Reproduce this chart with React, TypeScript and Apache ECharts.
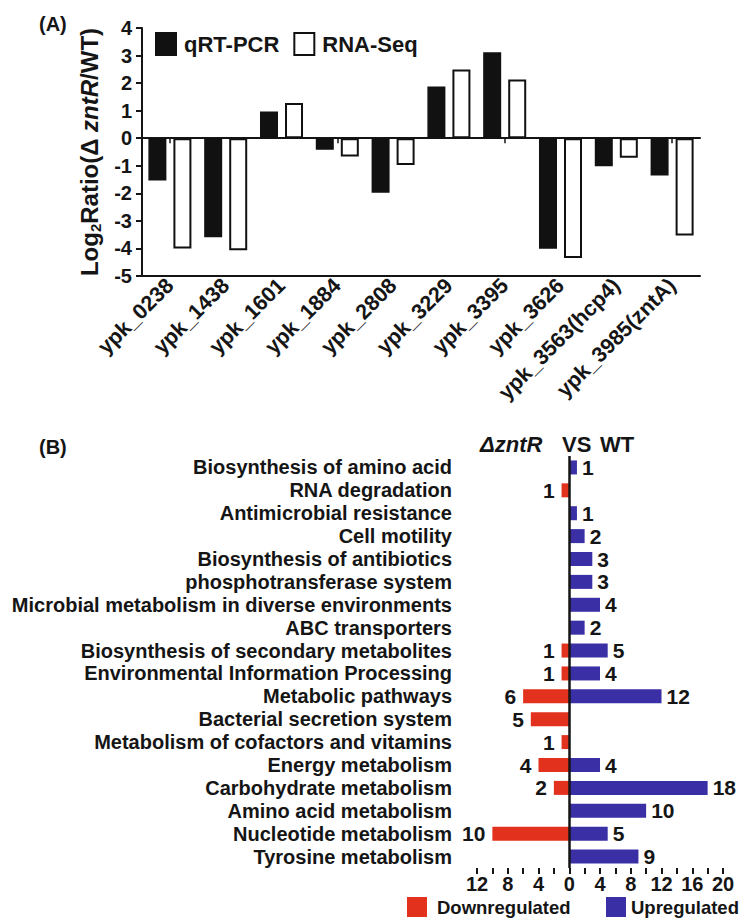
import React, { useEffect, useRef } from "react";
import * as echarts from "echarts";

const FONT = "'Liberation Sans', Arial, Helvetica, sans-serif";
const INK = "#151515";

// Panel A data
const genes = [
  "ypk_0238",
  "ypk_1438",
  "ypk_1601",
  "ypk_1884",
  "ypk_2808",
  "ypk_3229",
  "ypk_3395",
  "ypk_3626",
  "ypk_3563(hcp4)",
  "ypk_3985(zntA)",
];
const qrtPcr = [-1.53, -3.59, 0.97, -0.42, -1.98, 1.88, 3.12, -4.01, -1.02, -1.35];
const rnaSeq = [-4.0, -4.07, 1.28, -0.66, -0.97, 2.49, 2.13, -4.35, -0.71, -3.53];
const yTicksA = { min: -5, max: 4, interval: 1 };

// Panel B data
const pathways = [
  "Biosynthesis of amino acid",
  "RNA degradation",
  "Antimicrobial resistance",
  "Cell motility",
  "Biosynthesis of antibiotics",
  "phosphotransferase system",
  "Microbial metabolism in diverse environments",
  "ABC transporters",
  "Biosynthesis of secondary metabolites",
  "Environmental Information Processing",
  "Metabolic pathways",
  "Bacterial secretion system",
  "Metabolism of cofactors and vitamins",
  "Energy metabolism",
  "Carbohydrate metabolism",
  "Amino acid metabolism",
  "Nucleotide metabolism",
  "Tyrosine metabolism",
];
const downregulated = [0, 1, 0, 0, 0, 0, 0, 0, 1, 1, 6, 5, 1, 4, 2, 0, 10, 0];
const upregulated = [1, 0, 1, 2, 3, 3, 4, 2, 5, 4, 12, 0, 0, 4, 18, 10, 5, 9];
const xTicksB = { min: -12, max: 20, interval: 2, labelEvery: 4 };

const RED = "#e2311d";
const BLUE = "#3a2fa5";

export default function App() {
  const ref = useRef<HTMLDivElement>(null);

  useEffect(() => {
    if (!ref.current) return;
    const chart = echarts.init(ref.current, undefined, { renderer: "svg" });

    const option: any = {
      animation: false,
      backgroundColor: "#ffffff",
      textStyle: { fontFamily: FONT },
      legend: [
        {
          data: ["qRT-PCR", "RNA-Seq"],
          left: 155,
          top: 32,
          padding: 0,
          itemWidth: 20,
          itemHeight: 22,
          itemGap: 14,
          icon: "rect",
          selectedMode: false,
          textStyle: {
            fontFamily: FONT,
            fontSize: 22,
            fontWeight: "bold",
            color: INK,
            padding: [0, 0, 0, 3],
          },
        },
        {
          data: ["Downregulated"],
          left: 407,
          top: 897,
          padding: 0,
          itemWidth: 20,
          itemHeight: 20,
          icon: "rect",
          selectedMode: false,
          textStyle: {
            fontFamily: FONT,
            fontSize: 18.5,
            fontWeight: "bold",
            color: INK,
            padding: [0, 0, 0, 5],
          },
        },
        {
          data: ["Upregulated"],
          left: 606,
          top: 897,
          padding: 0,
          itemWidth: 20,
          itemHeight: 20,
          icon: "rect",
          selectedMode: false,
          textStyle: {
            fontFamily: FONT,
            fontSize: 18.5,
            fontWeight: "bold",
            color: INK,
          },
        },
      ],
      grid: [
        { left: 142, top: 28, width: 558, height: 248 },
        { left: 477, top: 456, width: 246, height: 412 },
      ],
      xAxis: [
        {
          type: "category",
          gridIndex: 0,
          data: genes,
          position: "bottom",
          axisLine: { onZero: false, lineStyle: { color: INK, width: 2 } },
          axisTick: { show: false },
          axisLabel: {
            interval: 0,
            rotate: 45,
            margin: 6,
            fontFamily: FONT,
            fontSize: 21.5,
            fontWeight: "bold",
            color: INK,
          },
        },
        {
          type: "category",
          gridIndex: 0,
          data: genes,
          position: "bottom",
          axisLine: { onZero: true, lineStyle: { color: INK, width: 2 } },
          axisTick: {
            show: true,
            alignWithLabel: true,
            length: 5,
            lineStyle: { color: INK, width: 1.5 },
          },
          axisLabel: { show: false },
        },
        {
          type: "value",
          gridIndex: 1,
          min: xTicksB.min,
          max: xTicksB.max,
          interval: xTicksB.interval,
          axisLine: { onZero: false, lineStyle: { color: INK, width: 2 } },
          axisTick: { show: true, length: 6, lineStyle: { color: INK, width: 2 } },
          splitLine: { show: false },
          axisLabel: {
            margin: 6,
            fontFamily: FONT,
            fontSize: 20,
            fontWeight: "bold",
            color: INK,
            formatter: (v: number) =>
              v % xTicksB.labelEvery === 0 ? String(Math.abs(v)) : "",
          },
        },
      ],
      yAxis: [
        {
          type: "value",
          gridIndex: 0,
          min: yTicksA.min,
          max: yTicksA.max,
          interval: yTicksA.interval,
          axisLine: { show: true, onZero: false, lineStyle: { color: INK, width: 2 } },
          axisTick: { show: true, length: 6, lineStyle: { color: INK, width: 2 } },
          splitLine: { show: false },
          axisLabel: {
            margin: 10,
            fontFamily: FONT,
            fontSize: 20,
            fontWeight: "bold",
            color: INK,
          },
          name: "{a|Log}{s|2}{a|Ratio(Δ }{i|zntR}{a|/WT)}",
          nameLocation: "middle",
          nameGap: 36,
          nameTextStyle: {
            rich: {
              a: {
                fontFamily: FONT,
                fontSize: 24,
                fontWeight: "bold",
                color: INK,
                lineHeight: 28,
              },
              i: {
                fontFamily: FONT,
                fontSize: 24,
                fontWeight: "bold",
                fontStyle: "italic",
                color: INK,
                lineHeight: 28,
              },
              s: {
                fontFamily: FONT,
                fontSize: 15,
                fontWeight: "bold",
                color: INK,
                lineHeight: 15,
                verticalAlign: "bottom",
              },
            },
          },
        },
        {
          type: "category",
          gridIndex: 1,
          data: pathways,
          inverse: true,
          axisLine: { show: false, onZero: false },
          axisTick: { show: false },
          axisLabel: {
            interval: 0,
            margin: 25,
            fontFamily: FONT,
            fontSize: 20,
            fontWeight: "bold",
            color: INK,
          },
        },
      ],
      series: [
        {
          name: "qRT-PCR",
          type: "bar",
          xAxisIndex: 0,
          yAxisIndex: 0,
          data: qrtPcr,
          barWidth: 18,
          barGap: "39%",
          itemStyle: { color: "#111111", borderColor: "#111111", borderWidth: 1.5 },
        },
        {
          name: "RNA-Seq",
          type: "bar",
          xAxisIndex: 0,
          yAxisIndex: 0,
          data: rnaSeq,
          barWidth: 18,
          barGap: "39%",
          itemStyle: { color: "#ffffff", borderColor: "#111111", borderWidth: 2 },
        },
        {
          name: "Downregulated",
          type: "bar",
          xAxisIndex: 2,
          yAxisIndex: 1,
          data: downregulated.map((v) => (v === 0 ? null : -v)),
          barWidth: 14,
          barGap: "-100%",
          itemStyle: { color: RED },
          label: {
            show: true,
            position: "left",
            distance: 7,
            fontFamily: FONT,
            fontSize: 21,
            fontWeight: "bold",
            color: INK,
            formatter: (p: any) => String(Math.abs(p.value)),
          },
        },
        {
          name: "Upregulated",
          type: "bar",
          xAxisIndex: 2,
          yAxisIndex: 1,
          data: upregulated.map((v) => (v === 0 ? null : v)),
          barWidth: 14,
          barGap: "-100%",
          itemStyle: { color: BLUE },
          label: {
            show: true,
            position: "right",
            distance: 5,
            fontFamily: FONT,
            fontSize: 21,
            fontWeight: "bold",
            color: INK,
          },
          markLine: {
            silent: true,
            symbol: "none",
            label: { show: false },
            lineStyle: { color: INK, width: 2.5, type: "solid" },
            data: [{ xAxis: 0 }],
          },
        },
      ],
      graphic: [
        {
          type: "text",
          left: 39,
          top: 14,
          style: { text: "(A)", fontFamily: FONT, fontSize: 20, fontWeight: "bold", fill: INK },
        },
        {
          type: "text",
          left: 39,
          top: 437,
          style: { text: "(B)", fontFamily: FONT, fontSize: 20, fontWeight: "bold", fill: INK },
        },
        {
          type: "text",
          left: 480,
          top: 433,
          style: {
            text: "ΔzntR",
            fontFamily: FONT,
            fontSize: 22,
            fontWeight: "bold",
            fontStyle: "italic",
            fill: INK,
          },
        },
        {
          type: "text",
          left: 562,
          top: 433,
          style: { text: "VS", fontFamily: FONT, fontSize: 22, fontWeight: "bold", fill: INK },
        },
        {
          type: "text",
          left: 600,
          top: 433,
          style: { text: "WT", fontFamily: FONT, fontSize: 22, fontWeight: "bold", fill: INK },
        },
      ],
    };

    chart.setOption(option);
    return () => chart.dispose();
  }, []);

  return (
    <div
      ref={ref}
      style={{ position: "fixed", left: 0, top: 0, width: 743, height: 919 }}
    />
  );
}
